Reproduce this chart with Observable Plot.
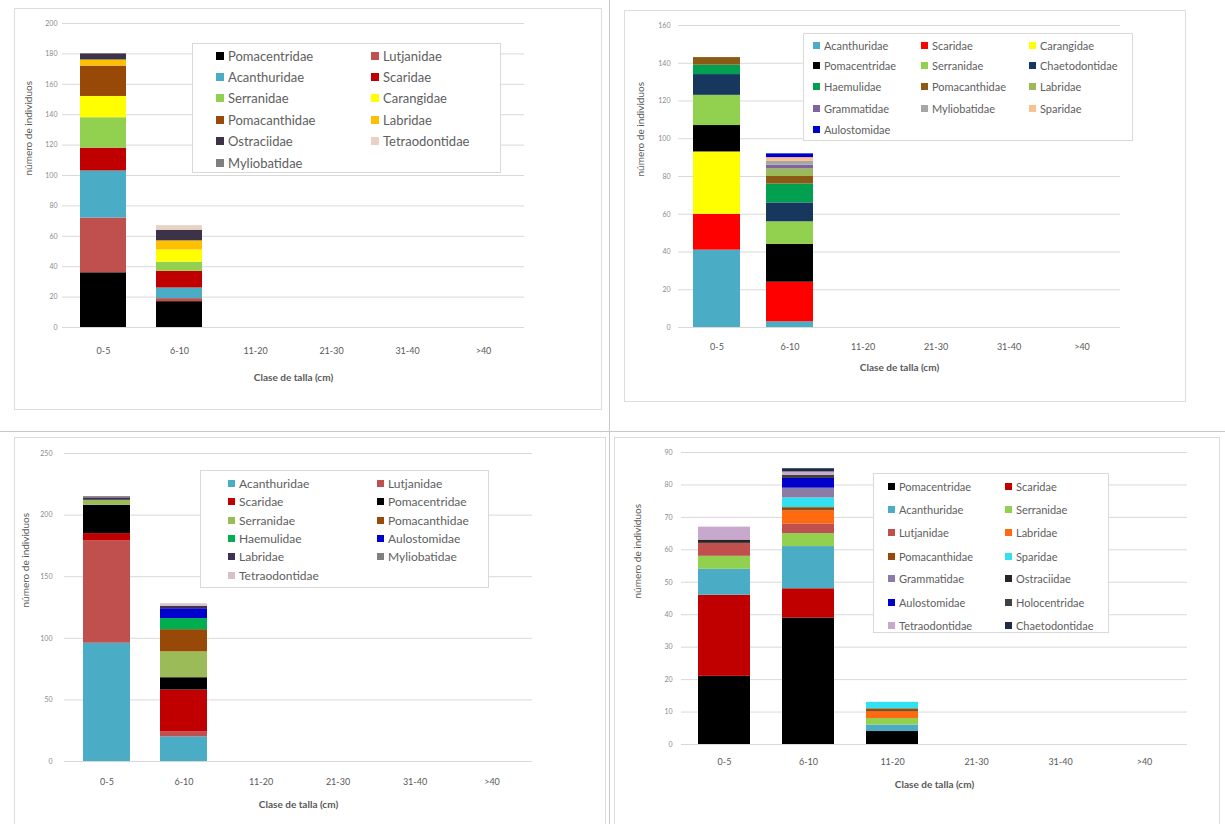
<!DOCTYPE html>
<html>
<head>
<meta charset="utf-8">
<script src="https://cdn.jsdelivr.net/npm/d3@7"></script>
<script src="https://cdn.jsdelivr.net/npm/@observablehq/plot@0.6"></script>
<style>
  html, body { margin: 0; padding: 0; background: #fff; }
  #page { position: relative; width: 1225px; height: 824px; overflow: hidden; font-family: Lato, "Open Sans", sans-serif; }
  .abs { position: absolute; }
  .box { position: absolute; border: 1px solid #dcdcdc; box-sizing: border-box; }
  .legend { position: absolute; border: 1px solid #d9d9d9; background: #fff; box-sizing: border-box; }
  .item { position: absolute; white-space: nowrap; color: #606060; display: flex; align-items: center; }
  .sw { display: inline-block; width: 7px; height: 7px; margin-right: 4px; flex: none; }
</style>
</head>
<body>
<div id="page"></div>
<script>
const classes = ["0-5", "6-10", "11-20", "21-30", "31-40", ">40"];
const xTitle = "Clase de talla (cm)";
const yTitle = "número de individuos";

// Panel A (top left)
const famA = ["Pomacentridae", "Lutjanidae", "Acanthuridae", "Scaridae", "Serranidae", "Carangidae", "Pomacanthidae", "Labridae", "Ostraciidae", "Tetraodontidae", "Myliobatidae"];
const colA = ["#000000", "#c0504d", "#4bacc6", "#c00000", "#92d050", "#ffff00", "#984807", "#ffc000", "#3d3348", "#e8d2c4", "#7f7f7f"];
const valsA_0_5 = [36, 36, 31, 15, 20, 14, 20, 4, 4, 0, 0];
const valsA_6_10 = [17, 2, 7, 11, 6, 8, 0, 6, 7, 3, 0];
const ticksA = [0, 20, 40, 60, 80, 100, 120, 140, 160, 180, 200];

// Panel B (top right)
const famB = ["Acanthuridae", "Scaridae", "Carangidae", "Pomacentridae", "Serranidae", "Chaetodontidae", "Haemulidae", "Pomacanthidae", "Labridae", "Grammatidae", "Myliobatidae", "Sparidae", "Aulostomidae"];
const colB = ["#4bacc6", "#ff0000", "#ffff00", "#000000", "#92d050", "#17375e", "#00a050", "#8b5a14", "#9bbb59", "#8064a2", "#a6a6a6", "#fac090", "#0000cc"];
const valsB_0_5 = [41, 19, 33, 14, 16, 11, 5, 4, 0, 0, 0, 0, 0];
const valsB_6_10 = [3, 21, 0, 20, 12, 10, 10, 4, 4, 2, 2, 2, 2];
const ticksB = [0, 20, 40, 60, 80, 100, 120, 140, 160];

// Panel C (bottom left)
const famC = ["Acanthuridae", "Lutjanidae", "Scaridae", "Pomacentridae", "Serranidae", "Pomacanthidae", "Haemulidae", "Aulostomidae", "Labridae", "Myliobatidae", "Tetraodontidae"];
const colC = ["#4bacc6", "#c0504d", "#c00000", "#000000", "#9bbb59", "#984807", "#00b050", "#0000cc", "#403152", "#7f7f7f", "#d4c2c8"];
const valsC_0_5 = [96, 83, 6, 23, 4, 0, 0, 0, 2, 1, 0];
const valsC_6_10 = [20, 4, 34, 10, 21, 18, 9, 8, 2, 0, 2];
const ticksC = [0, 50, 100, 150, 200, 250];

// Panel D (bottom right)
const famD = ["Pomacentridae", "Scaridae", "Acanthuridae", "Serranidae", "Lutjanidae", "Labridae", "Pomacanthidae", "Sparidae", "Grammatidae", "Ostraciidae", "Aulostomidae", "Holocentridae", "Tetraodontidae", "Chaetodontidae"];
const colD = ["#000000", "#c00000", "#4bacc6", "#92d050", "#c0504d", "#ff6a10", "#984807", "#33e0f0", "#8a7ca6", "#262626", "#0000cc", "#404040", "#c8a8cc", "#1f2a44"];
const valsD_0_5 = [21, 25, 8, 4, 4, 0, 0, 0, 0, 1, 0, 0, 4, 0];
const valsD_6_10 = [39, 9, 13, 4, 3, 4, 1, 3, 3, 0, 3, 1, 1, 1];
const valsD_11_20 = [4, 0, 2, 2, 0, 2, 1, 2, 0, 0, 0, 0, 0, 0];
const ticksD = [0, 10, 20, 30, 40, 50, 60, 70, 80, 90];

function rows(fams, byClass) {
  const out = [];
  for (const [cls, vals] of byClass) {
    vals.forEach((v, i) => { if (v > 0) out.push({cls, fam: fams[i], n: v}); });
  }
  return out;
}

const page = document.getElementById("page");

function addBox(l, t, w, h) {
  const d = document.createElement("div");
  d.className = "box";
  Object.assign(d.style, {left: l + "px", top: t + "px", width: w + "px", height: h + "px"});
  page.appendChild(d);
}

function panel(cfg) {
  const data = rows(cfg.fams, cfg.byClass);
  const ymax = cfg.ticks[cfg.ticks.length - 1];
  const p = 1 - cfg.bw / cfg.step;
  const svg = Plot.plot({
    width: cfg.w, height: cfg.h,
    marginLeft: cfg.ml, marginRight: cfg.mr, marginTop: cfg.mt, marginBottom: cfg.mb,
    style: {fontFamily: "Lato, 'Open Sans', sans-serif", color: "#595959", background: "transparent", overflow: "visible"},
    x: {domain: classes, range: [cfg.c0 - cfg.step / 2, cfg.c0 + cfg.step * 5.5], paddingInner: p, paddingOuter: p / 2, align: 0.5},
    y: {domain: [0, ymax]},
    color: {domain: cfg.fams, range: cfg.cols},
    marks: [
      Plot.gridY({ticks: cfg.ticks, stroke: "#d9d9d9", strokeOpacity: 1}),
      Plot.barY(data, {x: "cls", y: "n", fill: "fam"}),
      Plot.axisX({tickSize: 0, tickPadding: cfg.xtp, fontSize: 9, label: null, color: "#595959"}),
      Plot.axisY({ticks: cfg.ticks, tickSize: 0, tickPadding: cfg.ytp, fontSize: 7, label: null, tickFormat: d => String(d), color: "#8a8a8a"}),
      Plot.text([yTitle], {text: d => d, frameAnchor: "left", dx: cfg.ydx, rotate: -90, fontSize: 10, fill: "#595959"}),
      Plot.text([xTitle], {text: d => d, frameAnchor: "bottom", dy: cfg.xdy, fontSize: 10, fontWeight: "bold", fill: "#595959"})
    ]
  });
  const wrap = document.createElement("div");
  wrap.className = "abs";
  wrap.style.left = cfg.left + "px";
  wrap.style.top = cfg.top + "px";
  wrap.appendChild(svg);
  page.appendChild(wrap);

  // legend
  const lg = cfg.legend;
  const box = document.createElement("div");
  box.className = "legend";
  Object.assign(box.style, {left: lg.x + "px", top: lg.y + "px", width: lg.w + "px", height: lg.h + "px"});
  page.appendChild(box);
  cfg.fams.forEach((f, i) => {
    const r = Math.floor(i / lg.cols.length), c = i % lg.cols.length;
    const it = document.createElement("div");
    it.className = "item";
    it.style.left = (lg.cols[c] - lg.x) + "px";
    it.style.top = (lg.rows[r] - lg.y - lg.fs * 0.7) + "px";
    it.style.fontSize = lg.fs + "px";
    it.style.height = (lg.fs * 1.4) + "px";
    const sw = document.createElement("span");
    sw.className = "sw";
    sw.style.background = cfg.cols[i];
    sw.style.width = sw.style.height = lg.sw + "px";
    it.appendChild(sw);
    it.appendChild(document.createTextNode(f));
    box.appendChild(it);
  });
}

// frames / dividers
addBox(14, 8, 588, 402);
addBox(624, 10, 562, 392);
addBox(14, 437, 592, 390);
addBox(614, 437, 606, 390);
const vline = document.createElement("div");
Object.assign(vline.style, {position: "absolute", left: "609px", top: "0px", width: "1px", height: "824px", background: "#c8c8c8"});
page.appendChild(vline);
const hline = document.createElement("div");
Object.assign(hline.style, {position: "absolute", left: "0px", top: "431px", width: "1225px", height: "1px", background: "#c8c8c8"});
page.appendChild(hline);

panel({
  left: 0, top: 0, w: 605, h: 415, ml: 62, mr: 81, mt: 23, mb: 88,
  c0: 103, step: 76, bw: 46,
  xtp: 20, ytp: 5, ydx: -34, xdy: 53,
  fams: famA, cols: colA, ticks: ticksA,
  byClass: [["0-5", valsA_0_5], ["6-10", valsA_6_10]],
  legend: {x: 192, y: 43, w: 309, h: 130, cols: [215, 370], rows: [55, 76, 97, 119, 140, 162], fs: 13, sw: 8}
});

panel({
  left: 610, top: 0, w: 600, h: 415, ml: 68, mr: 90, mt: 25, mb: 88,
  c0: 106, step: 73.2, bw: 47,
  xtp: 16, ytp: 8, ydx: -38, xdy: 43,
  fams: famB, cols: colB, ticks: ticksB,
  byClass: [["0-5", valsB_0_5], ["6-10", valsB_6_10]],
  legend: {x: 803, y: 33, w: 330, h: 108, cols: [812, 920, 1028], rows: [45, 65, 86, 108, 129], fs: 11, sw: 7}
});

panel({
  left: 0, top: 435, w: 605, h: 389, ml: 64, mr: 73, mt: 18, mb: 63,
  c0: 106, step: 77, bw: 47,
  xtp: 17, ytp: 12, ydx: -39, xdy: 46,
  fams: famC, cols: colC, ticks: ticksC,
  byClass: [["0-5", valsC_0_5], ["6-10", valsC_6_10]],
  legend: {x: 200, y: 470, w: 289, h: 118, cols: [227, 376], rows: [483, 501, 520, 538, 556, 575], fs: 12, sw: 7}
});

panel({
  left: 615, top: 435, w: 610, h: 389, ml: 66, mr: 38, mt: 17, mb: 80,
  c0: 109, step: 84, bw: 52,
  xtp: 14, ytp: 9, ydx: -44, xdy: 43,
  fams: famD, cols: colD, ticks: ticksD,
  byClass: [["0-5", valsD_0_5], ["6-10", valsD_6_10], ["11-20", valsD_11_20]],
  legend: {x: 873, y: 473, w: 236, h: 160, cols: [887, 1004], rows: [486, 509, 532, 556, 578, 602, 625], fs: 11, sw: 7}
});
</script>
</body>
</html>
